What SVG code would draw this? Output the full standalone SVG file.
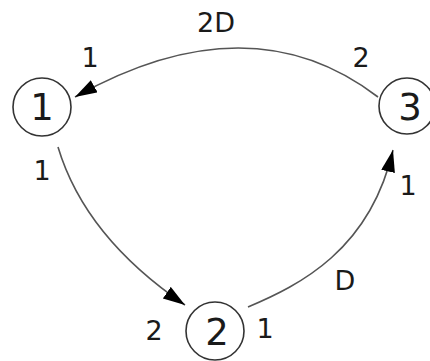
<svg xmlns="http://www.w3.org/2000/svg" width="430" height="361" viewBox="0 0 430 361">
<defs>
<style>
.node circle{fill:#fff;stroke:#333;stroke-width:1.6}
.nl{font-family:"DejaVu Sans",sans-serif;font-size:37px;fill:#1a1a1a;text-anchor:middle}
.el{font-family:"DejaVu Sans",sans-serif;font-size:27px;fill:#1a1a1a;text-anchor:middle}
.edge{fill:none;stroke:#555;stroke-width:1.6}
</style>
<marker id="arr" markerUnits="userSpaceOnUse" markerWidth="24" markerHeight="16" refX="22" refY="7" orient="auto">
<path d="M0,0 L22,7 L0,14 z" fill="#000"/>
</marker>
</defs>
<rect width="430" height="361" fill="#fff"/>
<g id="edges">
<path class="edge" d="M378,97 Q250,-1 75,97" marker-end="url(#arr)"/>
<path class="edge" d="M58,147 Q85,237 185,305" marker-end="url(#arr)"/>
<path class="edge" d="M248,307 C300,285 370,250 393,150" marker-end="url(#arr)"/>
</g>
<g id="node1" class="node"><circle cx="42" cy="107" r="29"/><text class="nl" x="42" y="120">1</text></g>
<g id="node2" class="node"><circle cx="215" cy="331" r="29"/><text class="nl" x="217" y="345">2</text></g>
<g id="node3" class="node"><circle cx="407" cy="106" r="28"/><text class="nl" x="410" y="120">3</text></g>
<g id="labels">
<text class="el" x="216" y="32">2D</text>
<text class="el" x="90" y="67">1</text>
<text class="el" x="361" y="67">2</text>
<text class="el" x="42" y="180">1</text>
<text class="el" x="408" y="195">1</text>
<text class="el" x="345" y="290">D</text>
<text class="el" x="154" y="340">2</text>
<text class="el" x="265" y="338">1</text>
</g>
</svg>
